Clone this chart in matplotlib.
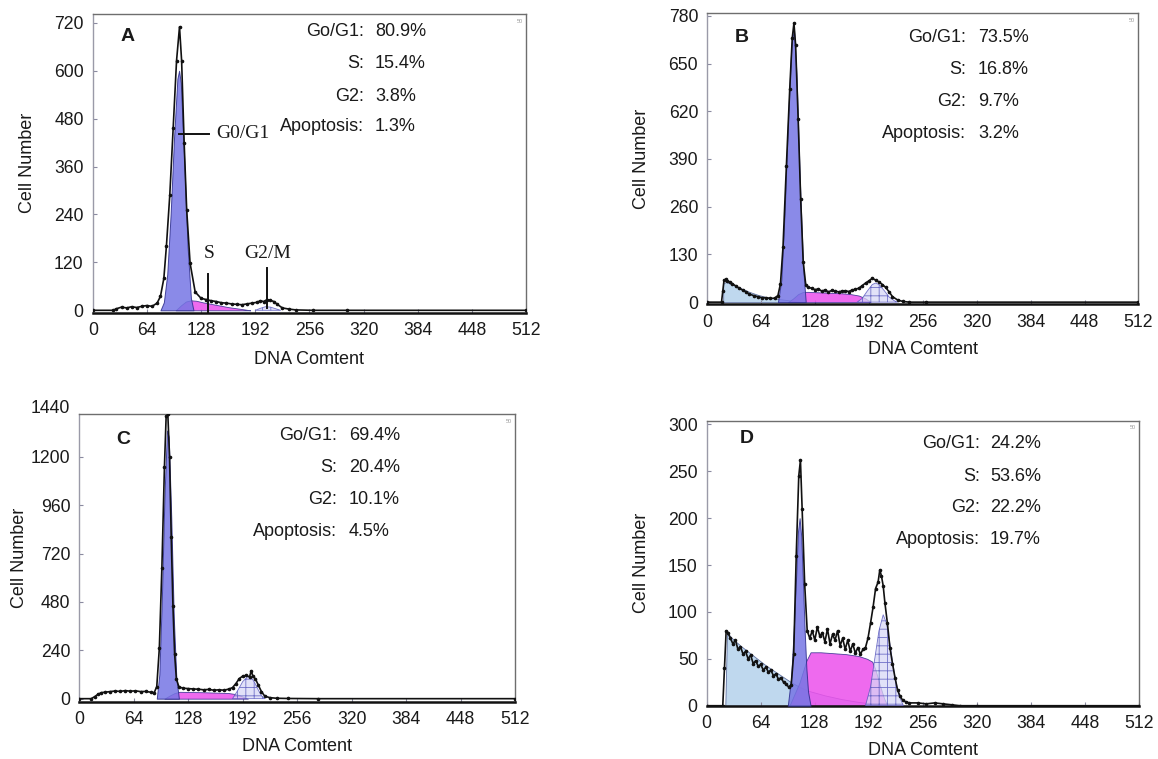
import matplotlib
matplotlib.use('Agg')
import matplotlib.pyplot as plt

plt.rcParams['font.family'] = ['Liberation Sans', 'DejaVu Sans']
plt.rcParams['hatch.linewidth'] = 0.6

# ---------------- data ----------------
x_ticks = [0, 64, 128, 192, 256, 320, 384, 448, 512]
stat_names = ['Go/G1:', 'S:', 'G2:', 'Apoptosis:']

# Panel A
a_yticks = [0, 120, 240, 360, 480, 600, 720]
a_yticklabels = ['0', '120', '240', '360', '480', '600', '720']
a_stats = ['80.9%', '15.4%', '3.8%', '1.3%']
a_hist_x = [0, 24, 28, 34, 40, 46, 52, 58, 64, 70, 76, 80, 84, 87, 91, 95, 99, 102.5, 105, 108, 111, 115,
            121, 128, 134, 140, 146, 152, 158, 164, 170, 176, 182, 188, 194, 198, 202, 206, 210, 214, 218,
            224, 232, 240, 260, 300, 512]
a_hist_y = [0, 0, 4, 8, 6, 9, 7, 10, 12, 10, 18, 35, 80, 160, 288, 456, 625, 710, 625, 419, 251, 118,
            46, 30, 27, 24, 22, 19, 18, 16, 15, 14, 16, 18, 20, 24, 22, 27, 25, 22, 15,
            6, 3, 1, 0, 0, 0]
a_g1_x = [80, 84, 88, 92, 96, 100, 102, 104, 108, 112, 116, 119]
a_g1_y = [0, 20, 90, 240, 430, 580, 600, 570, 380, 160, 30, 0]
a_s_x = [98, 104, 110, 116, 122, 130, 140, 150, 160, 170, 180, 186]
a_s_y = [0, 12, 22, 25, 24, 20, 16, 12, 8, 5, 2, 0]
a_g2_x = [192, 198, 204, 210, 216, 222]
a_g2_y = [0, 5, 9, 8, 4, 0]

# Panel B
b_yticks = [0, 130, 260, 390, 520, 650, 780]
b_yticklabels = ['0', '130', '260', '390', '620', '650', '780']
b_stats = ['73.5%', '16.8%', '9.7%', '3.2%']
b_hist_x = [0, 17, 18.5, 20, 22, 24, 27, 30, 34, 38, 42, 46, 50, 55, 60, 65, 70, 75, 80, 84, 87, 90, 94,
            98, 101, 103, 105, 108, 111, 114, 117, 120, 124, 128, 132, 136, 140, 144, 148, 152, 156, 160,
            164, 168, 172, 176, 180, 184, 188, 192, 196, 200, 204, 208, 212, 216, 220, 226, 232, 240, 260, 512]
b_hist_y = [0, 0, 30, 60, 62, 58, 55, 50, 44, 38, 33, 28, 22, 18, 15, 12, 12, 10, 11, 18, 50, 150, 370,
            580, 720, 760, 700, 500, 280, 110, 48, 40, 38, 34, 36, 30, 33, 28, 32, 30, 28, 30,
            31, 29, 33, 35, 38, 45, 52, 58, 65, 60, 55, 48, 40, 28, 15, 6, 2, 0, 0, 0]
b_apo_x = [19, 19, 22, 30, 40, 50, 60, 70, 80, 90, 100, 110]
b_apo_y = [0, 50, 55, 48, 38, 28, 20, 14, 10, 7, 4, 0]
b_g1_x = [84, 88, 92, 96, 100, 103, 106, 110, 114, 117]
b_g1_y = [0, 60, 250, 500, 700, 745, 620, 330, 90, 0]
b_s_x = [96, 102, 108, 114, 120, 130, 140, 150, 160, 170, 180, 188, 194]
b_s_y = [0, 10, 22, 28, 28, 27, 26, 25, 24, 22, 18, 10, 0]
b_g2_x = [178, 184, 190, 196, 200, 204, 210, 216, 222, 226]
b_g2_y = [0, 10, 30, 48, 52, 48, 32, 14, 4, 0]

# Panel C
c_yticks = [0, 240, 480, 720, 960, 1200]
c_yticklabels = ['0', '240', '480', '720', '960', '1200']
c_top_tick = 1440
c_stats = ['69.4%', '20.4%', '10.1%', '4.5%']
c_hist_x = [0, 14, 18, 22, 26, 30, 36, 42, 48, 54, 60, 66, 72, 78, 84, 88, 91, 94, 97, 100, 102, 104, 106,
            108, 110, 112, 114, 117, 122, 128, 134, 140, 146, 152, 158, 164, 170, 176, 180, 184, 188, 192,
            196, 200, 202, 204, 207, 210, 214, 218, 224, 232, 245, 280, 512]
c_hist_y = [0, 0, 10, 22, 30, 32, 35, 38, 36, 40, 37, 39, 35, 36, 32, 30, 60, 250, 650, 1150, 1400, 1410, 1200,
            800, 460, 220, 100, 58, 52, 50, 48, 47, 44, 46, 42, 44, 42, 48, 55, 75, 100, 112,
            115, 108, 138, 110, 98, 70, 35, 12, 5, 2, 1, 0, 0]
c_g1_x = [91, 94, 97, 100, 103, 105, 108, 111, 114, 117]
c_g1_y = [0, 120, 500, 1000, 1330, 1300, 900, 400, 100, 0]
c_s_x = [100, 106, 112, 118, 130, 145, 160, 175, 185, 192, 198]
c_s_y = [0, 15, 28, 34, 33, 32, 30, 28, 22, 10, 0]
c_g2_x = [180, 186, 192, 198, 202, 206, 210, 214, 218]
c_g2_y = [0, 40, 85, 110, 105, 80, 45, 15, 0]

# Panel D
d_yticks = [0, 50, 100, 150, 200, 250, 300]
d_yticklabels = ['0', '50', '100', '150', '200', '250', '300']
d_stats = ['24.2%', '53.6%', '22.2%', '19.7%']
d_hist_x = [0, 19, 21, 23, 25, 28, 31, 34, 37, 40, 43, 46, 49, 52, 55, 58, 61, 64, 67, 70, 73, 76, 79, 82,
            85, 88, 91, 94, 97, 100, 103, 106, 109, 111, 113, 116, 119, 122, 125, 128, 131, 134, 137, 140,
            143, 146, 149, 152, 155, 158, 161, 164, 167, 170, 173, 176, 179, 182, 185, 188, 191, 194, 197,
            200, 203, 205, 207, 209, 211, 214, 217, 220, 223, 226, 229, 232, 236, 240, 250, 260, 270, 280,
            290, 300, 320, 512]
d_hist_y = [0, 0, 40, 80, 78, 72, 66, 70, 60, 63, 55, 58, 50, 54, 45, 48, 42, 44, 38, 41, 36, 38, 32, 34,
            28, 30, 25, 23, 20, 22, 55, 160, 245, 262, 210, 130, 80, 72, 80, 70, 84, 74, 78, 68,
            82, 66, 76, 70, 80, 64, 72, 60, 70, 58, 66, 56, 62, 55, 60, 62, 72, 88, 105,
            125, 132, 145, 138, 128, 110, 88, 62, 45, 30, 17, 10, 6, 4, 3, 3, 2, 3, 2,
            1, 0, 0, 0]
d_apo_x = [22, 24, 30, 40, 50, 60, 70, 80, 90, 100, 110, 120, 140, 160, 180, 200, 220]
d_apo_y = [0, 78, 72, 64, 57, 50, 43, 37, 31, 25, 20, 16, 11, 7, 4, 2, 0]
d_g1_x = [96, 100, 103, 106, 108, 110, 112, 114, 116, 118, 120, 123]
d_g1_y = [0, 30, 80, 140, 185, 200, 180, 130, 80, 40, 15, 0]
d_s_x = [98, 110, 118, 123, 135, 150, 165, 180, 190, 196, 200, 205, 210, 214]
d_s_y = [0, 25, 48, 57, 57, 56, 55, 53, 50, 47, 38, 22, 8, 0]
d_g2_x = [188, 194, 199, 204, 209, 213, 218, 223, 228, 233]
d_g2_y = [0, 20, 50, 80, 97, 88, 60, 30, 10, 0]

# ---------------- styling ----------------
APO_C = '#bcd6ee'
G1_C = '#7676e4'
S_C = '#ec50ec'
G2_FACE = '#d8d8f6'
G2_HATCH = '#4a4ab8'
EDGE = '#2c2c8c'
TXT = '#1a1a1a'

panels = [
    dict(name='A', pos=[0.0801, 0.588, 0.3742, 0.3935], ylim=(-6, 742),
         yt=a_yticks, ytl=a_yticklabels, stats=a_stats,
         hx=a_hist_x, hy=a_hist_y, apo=None, g1=(a_g1_x, a_g1_y), s=(a_s_x, a_s_y), g2=(a_g2_x, a_g2_y),
         lab=(0.081, 0.926), st=(0.626, 0.651, [0.940, 0.836, 0.725, 0.622]), ylx=-0.131),
    dict(name='B', pos=[0.6107, 0.5995, 0.3724, 0.383], ylim=(-5, 787),
         yt=b_yticks, ytl=b_yticklabels, stats=b_stats,
         hx=b_hist_x, hy=b_hist_y, apo=(b_apo_x, b_apo_y), g1=(b_g1_x, b_g1_y), s=(b_s_x, b_s_y),
         g2=(b_g2_x, b_g2_y),
         lab=(0.081, 0.918), st=(0.600, 0.628, [0.918, 0.808, 0.698, 0.588]), ylx=-0.132),
    dict(name='C', pos=[0.0685, 0.0755, 0.3763, 0.379], ylim=(-15, 1412),
         yt=c_yticks, ytl=c_yticklabels, stats=c_stats,
         hx=c_hist_x, hy=c_hist_y, apo=None, g1=(c_g1_x, c_g1_y), s=(c_s_x, c_s_y), g2=(c_g2_x, c_g2_y),
         lab=(0.100, 0.910), st=(0.591, 0.619, [0.925, 0.815, 0.704, 0.591]), ylx=-0.118),
    dict(name='D', pos=[0.6103, 0.0702, 0.3733, 0.3755], ylim=(0, 304),
         yt=d_yticks, ytl=d_yticklabels, stats=d_stats,
         hx=d_hist_x, hy=d_hist_y, apo=(d_apo_x, d_apo_y), g1=(d_g1_x, d_g1_y), s=(d_s_x, d_s_y),
         g2=(d_g2_x, d_g2_y),
         lab=(0.0925, 0.936), st=(0.632, 0.655, [0.921, 0.806, 0.696, 0.584]), ylx=-0.132),
]

fig = plt.figure(figsize=(11.58, 7.59), dpi=100)
FS = 12.7

for p in panels:
    ax = fig.add_axes(p['pos'])
    ax.set_xlim(0, 512)
    ax.set_ylim(*p['ylim'])

    if p['apo'] is not None:
        ax.fill_between(p['apo'][0], p['apo'][1], 0, facecolor=APO_C, edgecolor='#5a6a9a',
                        linewidth=0.6, alpha=0.95, zorder=1)
    ax.fill_between(p['s'][0], p['s'][1], 0, facecolor=S_C, edgecolor=EDGE, linewidth=0.6,
                    alpha=0.85, zorder=2)
    ax.fill_between(p['g1'][0], p['g1'][1], 0, facecolor=G1_C, edgecolor=EDGE, linewidth=0.7,
                    alpha=0.85, zorder=3)
    ax.fill_between(p['g2'][0], p['g2'][1], 0, facecolor=G2_FACE, edgecolor=G2_HATCH, hatch='++',
                    linewidth=0.6, alpha=0.75, zorder=3)

    ax.plot(p['hx'], p['hy'], color='#111111', linewidth=1.2, marker='o', markersize=1.6,
            zorder=5)

    # axes styling
    for side in ['top', 'right']:
        ax.spines[side].set_color('#6e6e6e')
        ax.spines[side].set_linewidth(1.0)
    ax.spines['left'].set_color('#9a9aa8')
    ax.spines['left'].set_linewidth(1.0)
    ax.spines['bottom'].set_color('#111111')
    ax.spines['bottom'].set_linewidth(1.8)

    ax.set_xticks(x_ticks)
    ax.set_xticklabels([str(t) for t in x_ticks])
    ax.set_yticks(p['yt'])
    ax.set_yticklabels(p['ytl'])
    ax.tick_params(axis='both', direction='in', length=3, width=0.8, color='#8a8aa0',
                   labelsize=FS, labelcolor=TXT)
    ax.tick_params(axis='x', pad=7)
    ax.tick_params(axis='y', pad=6.5)

    ax.set_xlabel('DNA Comtent', fontsize=13, color=TXT)
    ax.set_ylabel('Cell Number', fontsize=13, color=TXT)
    ax.xaxis.set_label_coords(0.5, -0.127)
    ax.yaxis.set_label_coords(p['ylx'], 0.5)

    # panel letter
    ax.text(p['lab'][0], p['lab'][1], p['name'], transform=ax.transAxes, fontsize=14,
            fontweight='bold', ha='center', va='center', color=TXT, zorder=6)

    # stats
    lx, vx, rows = p['st']
    for nm, val, ry in zip(stat_names, p['stats'], rows):
        ax.text(lx, ry, nm, transform=ax.transAxes, fontsize=13, ha='right', va='center', color=TXT)
        ax.text(vx, ry, val, transform=ax.transAxes, fontsize=13, ha='left', va='center', color=TXT)

    # small scan mark in the corner
    ax.text(0.985, 0.975, '50', transform=ax.transAxes, fontsize=4, color='#999999',
            ha='center', va='center')

    p['ax'] = ax

# the top label of panel C sits just above its frame
axC = panels[2]['ax']
axC.annotate(str(c_top_tick), xy=(0, c_top_tick), xycoords=axC.get_yaxis_transform(),
             xytext=(-6.5, 0), textcoords='offset points', ha='right', va='center',
             fontsize=FS, color=TXT, annotation_clip=False)

# annotations in panel A
axA = panels[0]['ax']
serif = ['Liberation Serif', 'DejaVu Serif']
axA.plot([101.5, 137.4], [441, 441], color='#111111', linewidth=1.4, zorder=6)
axA.text(145.7, 443, 'G0/G1', family=serif, fontsize=14, ha='left', va='center', color=TXT)
axA.plot([136.5, 136.5], [91, -6], color='#111111', linewidth=1.4, zorder=6)
axA.text(137.6, 143, 'S', family=serif, fontsize=14, ha='center', va='center', color=TXT)
axA.plot([206, 206], [105, 5], color='#111111', linewidth=1.4, zorder=6)
axA.text(207, 143, 'G2/M', family=serif, fontsize=14, ha='center', va='center', color=TXT)

fig.savefig('out.png', dpi=100, facecolor='white')
